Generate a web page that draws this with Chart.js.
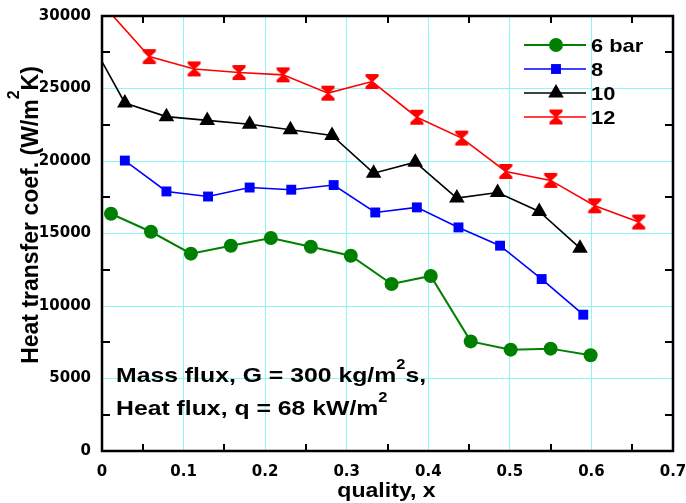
<!DOCTYPE html>
<html>
<head>
<meta charset="utf-8">
<script src="https://cdn.jsdelivr.net/npm/chart.js@4.4.1/dist/chart.umd.min.js"></script>
<style>
  html, body { margin: 0; padding: 0; background: #fff; }
  #wrap { width: 686px; height: 503px; }
</style>
</head>
<body>
<div id="wrap"><canvas id="chart"></canvas></div>
<script>
// values (quality x, heat transfer coefficient W/m2K)
const seriesLabels = ['6 bar', '8', '10', '12'];

const bar6X = [0.011, 0.060, 0.109, 0.158, 0.207, 0.256, 0.305, 0.355, 0.403, 0.452, 0.501, 0.550, 0.599];
const bar6Y = [16360, 15120, 13610, 14160, 14690, 14090, 13470, 11520, 12070, 7560, 6990, 7060, 6600];

const bar8X = [0.028, 0.079, 0.130, 0.181, 0.232, 0.284, 0.335, 0.386, 0.437, 0.488, 0.539, 0.590];
const bar8Y = [20030, 17900, 17550, 18170, 18020, 18340, 16450, 16800, 15420, 14160, 11860, 9400];

const bar10X = [0, 0.028, 0.079, 0.129, 0.181, 0.231, 0.282, 0.333, 0.384, 0.435, 0.485, 0.536, 0.586];
const bar10Y = [26850, 24000, 23060, 22800, 22530, 22150, 21760, 19160, 19920, 17440, 17830, 16520, 13990];

const bar12X = [0, 0.058, 0.113, 0.168, 0.222, 0.277, 0.331, 0.386, 0.441, 0.495, 0.550, 0.604, 0.658];
const bar12Y = [30850, 27200, 26350, 26100, 25940, 24680, 25480, 23020, 21580, 19280, 18660, 16910, 15790];

const minorTicksX = [0.05, 0.15, 0.25, 0.35, 0.45, 0.55, 0.65];
const minorTicksY = [2500, 7500, 12500, 17500, 22500, 27500];

const GRID = '#8ef6f6';
const TICK_FONT = { family: 'DejaVu Sans', size: 15, weight: 'bold' };

function zip(xs, ys) {
  return xs.map((x, i) => ({ x, y: ys[i] }));
}

// red hourglass marker
function hourglass(color) {
  const c = document.createElement('canvas');
  c.width = 16;
  c.height = 17;
  const g = c.getContext('2d');
  g.fillStyle = color;
  g.beginPath();
  g.moveTo(1.5, 1); g.lineTo(14.5, 1); g.lineTo(14.5, 3.5); g.lineTo(9, 8.5);
  g.lineTo(14.5, 13.5); g.lineTo(14.5, 16); g.lineTo(1.5, 16); g.lineTo(1.5, 13.5);
  g.lineTo(7, 8.5); g.lineTo(1.5, 3.5);
  g.closePath();
  g.fill();
  return c;
}
const hourglassRed = hourglass('#ff0000');

const styles = [
  { color: '#008000', pointStyle: 'circle', radius: 7, width: 2 },
  { color: '#0000ff', pointStyle: 'rect', radius: 7, width: 1.6 },
  { color: '#000000', pointStyle: 'triangle', radius: 9, width: 1.6 },
  { color: '#ff0000', pointStyle: hourglassRed, radius: 8, width: 1.6 },
];

// text with superscripts, optionally stretched horizontally
function drawRich(ctx, parts, x, y, size, sx, align) {
  ctx.save();
  ctx.translate(x, y);
  ctx.scale(sx, 1);
  ctx.fillStyle = '#000';
  ctx.textBaseline = 'alphabetic';
  ctx.textAlign = 'left';
  const supSize = Math.round(size * 0.68);
  let total = 0;
  for (const p of parts) {
    ctx.font = `bold ${p.sup ? supSize : size}px "Liberation Sans", Arial, sans-serif`;
    total += ctx.measureText(p.t).width;
  }
  let cx = align === 'center' ? -total / 2 : 0;
  for (const p of parts) {
    ctx.font = `bold ${p.sup ? supSize : size}px "Liberation Sans", Arial, sans-serif`;
    ctx.fillText(p.t, cx, p.sup ? -p.rise : 0);
    cx += ctx.measureText(p.t).width;
  }
  ctx.restore();
}

const decor = {
  id: 'decor',
  afterDraw(chart) {
    const { ctx, chartArea: a, scales: { x, y } } = chart;

    // inner minor ticks on all four sides
    ctx.save();
    ctx.fillStyle = '#000';
    for (const v of minorTicksY) {
      const p = Math.round(y.getPixelForValue(v));
      ctx.fillRect(a.left, p - 1, 8, 2);
      ctx.fillRect(a.right - 8, p - 1, 8, 2);
    }
    for (const v of minorTicksX) {
      const p = Math.round(x.getPixelForValue(v));
      ctx.fillRect(p - 1, a.top, 2, 7);
      ctx.fillRect(p - 1, a.bottom - 7, 2, 7);
    }
    // box frame
    ctx.strokeStyle = '#000';
    ctx.lineWidth = 2.5;
    ctx.strokeRect(a.left, a.top, a.right - a.left, a.bottom - a.top);
    ctx.restore();

    // legend
    const rows = [45, 69, 93, 117];
    styles.forEach((s, i) => {
      const yy = rows[i];
      ctx.save();
      ctx.strokeStyle = s.color;
      ctx.fillStyle = s.color;
      ctx.lineWidth = s.width;
      ctx.beginPath();
      ctx.moveTo(524, yy);
      ctx.lineTo(586, yy);
      ctx.stroke();
      Chart.helpers.drawPoint(ctx, { pointStyle: s.pointStyle, radius: s.radius, rotation: 0, borderWidth: 0 }, 556, yy);
      ctx.restore();
      drawRich(ctx, [{ t: seriesLabels[i] }], 591, yy + 7, 19, 1.15, 'left');
    });

    // annotations
    drawRich(ctx, [{ t: 'Mass flux, G = 300 kg/m' }, { t: '2', sup: true, rise: 13 }, { t: 's,' }], 116, 382, 21, 1.18, 'left');
    drawRich(ctx, [{ t: 'Heat flux, q = 68 kW/m' }, { t: '2', sup: true, rise: 13 }], 116, 415, 21, 1.18, 'left');

    // x axis title
    drawRich(ctx, [{ t: 'quality, x' }], (a.left + a.right) / 2 - 1, 497, 21, 1.1, 'center');

    // y axis title
    ctx.save();
    ctx.translate(38, 215);
    ctx.rotate(-Math.PI / 2);
    drawRich(ctx, [{ t: 'Heat transfer coef. (W/m' }, { t: '2', sup: true, rise: 19 }, { t: 'K)' }], 0, 0, 23, 1, 'center');
    ctx.restore();
  },
};

const datasets = [
  [bar6X, bar6Y],
  [bar8X, bar8Y],
  [bar10X, bar10Y],
  [bar12X, bar12Y],
].map(([xs, ys], i) => {
  const s = styles[i];
  const firstHidden = xs[0] === 0;
  return {
    label: seriesLabels[i],
    data: zip(xs, ys),
    borderColor: s.color,
    backgroundColor: s.color,
    borderWidth: s.width,
    pointStyle: s.pointStyle,
    pointRadius: (c) => (firstHidden && c.dataIndex === 0 ? 0 : s.radius),
    pointBorderWidth: 0,
    pointBackgroundColor: s.color,
    tension: 0,
    clip: 0,
  };
});

new Chart(document.getElementById('chart'), {
  type: 'line',
  data: { datasets },
  plugins: [decor],
  options: {
    responsive: true,
    maintainAspectRatio: false,
    animation: false,
    layout: { padding: { top: 16, right: 13, left: 0, bottom: 0 } },
    plugins: { legend: { display: false }, tooltip: { enabled: false } },
    scales: {
      x: {
        type: 'linear',
        min: 0,
        max: 0.7,
        afterFit: (s) => { s.height = 52; s.paddingLeft = 0; s.paddingRight = 0; },
        ticks: {
          stepSize: 0.1,
          font: TICK_FONT,
          color: '#000',
          padding: 12,
          maxRotation: 0,
          autoSkip: false,
          callback: (v) => (v === 0 ? '0' : v.toFixed(1)),
        },
        grid: { color: GRID, lineWidth: 1, drawTicks: false },
        border: { display: false },
      },
      y: {
        min: 0,
        max: 30000,
        afterFit: (s) => { s.width = 102; s.paddingTop = 0; s.paddingBottom = 0; },
        ticks: {
          stepSize: 5000,
          font: TICK_FONT,
          color: '#000',
          padding: 11,
          callback: (v) => String(v),
        },
        grid: { color: GRID, lineWidth: 1, drawTicks: false },
        border: { display: false },
      },
    },
  },
});
</script>
</body>
</html>
